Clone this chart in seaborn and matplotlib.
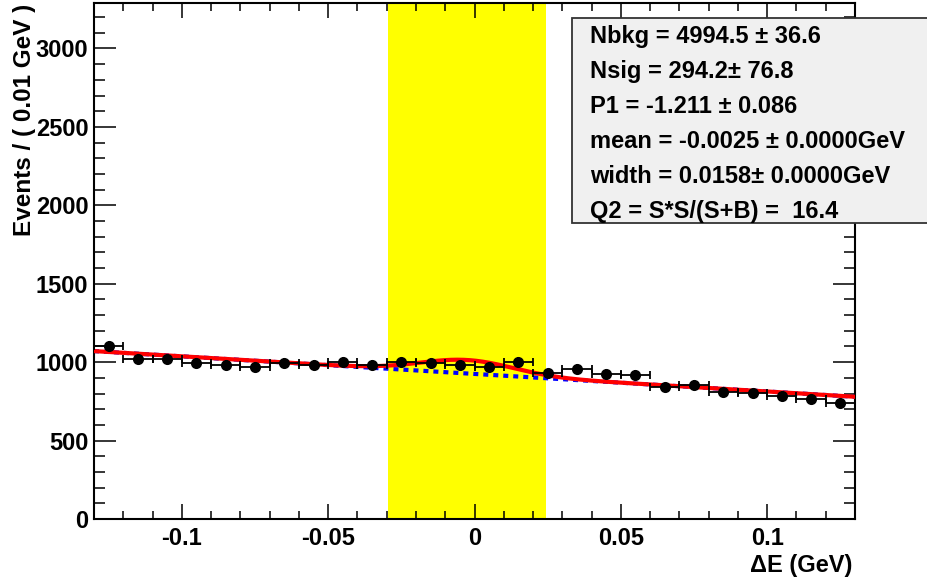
import numpy as np
import pandas as pd
import matplotlib
matplotlib.use("Agg")
import matplotlib.pyplot as plt
import seaborn as sns
from matplotlib.patches import Rectangle
from matplotlib.ticker import FixedLocator, MultipleLocator

# ---------------- data ----------------
bin_centers = [-0.125, -0.115, -0.105, -0.095, -0.085, -0.075, -0.065, -0.055, -0.045,
               -0.035, -0.025, -0.015, -0.005, 0.005, 0.015, 0.025, 0.035, 0.045,
               0.055, 0.065, 0.075, 0.085, 0.095, 0.105, 0.115, 0.125]
events = [1102, 1021, 1019, 992, 983, 972, 992, 985, 1002,
          985, 998, 992, 979, 966, 1004, 928, 957, 923,
          919, 840, 856, 807, 801, 783, 762, 737]
bin_half_width = 0.005

bkg_norm = 925.0
p1 = -1.211
sig_mean = -0.0025
sig_width = 0.0158
sig_peak = 86.0

signal_band = [-0.0295, 0.0245]
x_range = [-0.13, 0.13]
y_range = [0, 3290]

x_ticks = [-0.1, -0.05, 0.0, 0.05, 0.1]
x_tick_labels = ["-0.1", "-0.05", "0", "0.05", "0.1"]
y_ticks = [0, 500, 1000, 1500, 2000, 2500, 3000]
y_tick_labels = ["0", "500", "1000", "1500", "2000", "2500", "3000"]

stats_lines = ["Nbkg = 4994.5 \u00b1 36.6",
               "Nsig = 294.2\u00b1 76.8",
               "P1 = -1.211 \u00b1 0.086",
               "mean = -0.0025 \u00b1 0.0000GeV",
               "width = 0.0158\u00b1 0.0000GeV",
               "Q2 = S*S/(S+B) =  16.4"]

x_label = "\u0394E (GeV)"
y_label = "Events / ( 0.01 GeV )"

# ---------------- style ----------------
sns.set_theme(style="ticks")
plt.rcParams["font.family"] = ["Liberation Sans", "DejaVu Sans"]
plt.rcParams["font.weight"] = "bold"
plt.rcParams["text.color"] = "black"
plt.rcParams["axes.labelcolor"] = "black"
plt.rcParams["xtick.color"] = "black"
plt.rcParams["ytick.color"] = "black"

W, H = 927, 580
fig = plt.figure(figsize=(W / 100, H / 100), dpi=100)
ax = fig.add_axes([94 / W, 1 - 519 / H, (855 - 94) / W, (519 - 3) / H])

df = pd.DataFrame({"x": bin_centers, "y": events})
df["yerr"] = np.sqrt(df["y"])

xs = np.linspace(x_range[0], x_range[1], 600)
bkg = bkg_norm * (1 + p1 * xs)
total = bkg + sig_peak * np.exp(-0.5 * ((xs - sig_mean) / sig_width) ** 2)
curves = pd.DataFrame({"x": xs, "bkg": bkg, "total": total})

ax.axvspan(signal_band[0], signal_band[1], color="#ffff00", lw=0, zorder=0)

sns.lineplot(data=curves, x="x", y="bkg", ax=ax, color="#0000ff", lw=3,
             linestyle=(0, (1.2, 1.2)), zorder=2)
sns.lineplot(data=curves, x="x", y="total", ax=ax, color="#ff0000", lw=3,
             zorder=3)

ax.errorbar(df["x"], df["y"], xerr=bin_half_width, fmt="none", ecolor="black",
            elinewidth=1.3, capsize=2.6, capthick=1.3, zorder=4)
ax.errorbar(df["x"], df["y"], yerr=df["yerr"], fmt="none", ecolor="black",
            elinewidth=1.3, capsize=0, zorder=4)
sns.scatterplot(data=df, x="x", y="y", ax=ax, color="black", s=64,
                edgecolor="black", linewidth=0, zorder=5)

ax.set_xlim(*x_range)
ax.set_ylim(*y_range)
ax.set_xlabel("")
ax.set_ylabel("")

ax.xaxis.set_major_locator(FixedLocator(x_ticks))
ax.set_xticklabels(x_tick_labels)
ax.xaxis.set_minor_locator(MultipleLocator(0.01))
ax.yaxis.set_major_locator(FixedLocator(y_ticks))
ax.set_yticklabels(y_tick_labels)
ax.yaxis.set_minor_locator(MultipleLocator(100))

for s in ax.spines.values():
    s.set_linewidth(1.5)
    s.set_color("black")
    s.set_visible(True)

ax.tick_params(axis="both", which="both", direction="in", top=True, right=True,
               color="black", labelcolor="black", width=1.1, labelsize=17)
ax.tick_params(axis="x", which="major", length=11, pad=6)
ax.tick_params(axis="x", which="minor", length=5.5)
ax.tick_params(axis="y", which="major", length=16, pad=4)
ax.tick_params(axis="y", which="minor", length=8)
for lab in ax.get_xticklabels() + ax.get_yticklabels():
    lab.set_fontweight("bold")

fig.text(25 / W, 1 - 4 / H, y_label, rotation=90, ha="center", va="top",
         fontsize=17.5, fontweight="bold", color="black")
fig.text(852 / W, 1 - 577 / H, x_label, ha="right", va="bottom",
         fontsize=17, fontweight="bold", color="black")

# stats box
box = Rectangle((572 / W, 1 - 223 / H), (960 - 572) / W, (223 - 18) / H,
                transform=fig.transFigure, facecolor="#f0f0f0",
                edgecolor="#333333", lw=1.3, zorder=10, clip_on=False)
fig.add_artist(box)
for i, line in enumerate(stats_lines):
    fig.text(590 / W, 1 - (43 + 35 * i) / H, line, ha="left", va="baseline",
             fontsize=17, fontweight="bold", color="black", zorder=11)

fig.savefig("out.png", dpi=100)
